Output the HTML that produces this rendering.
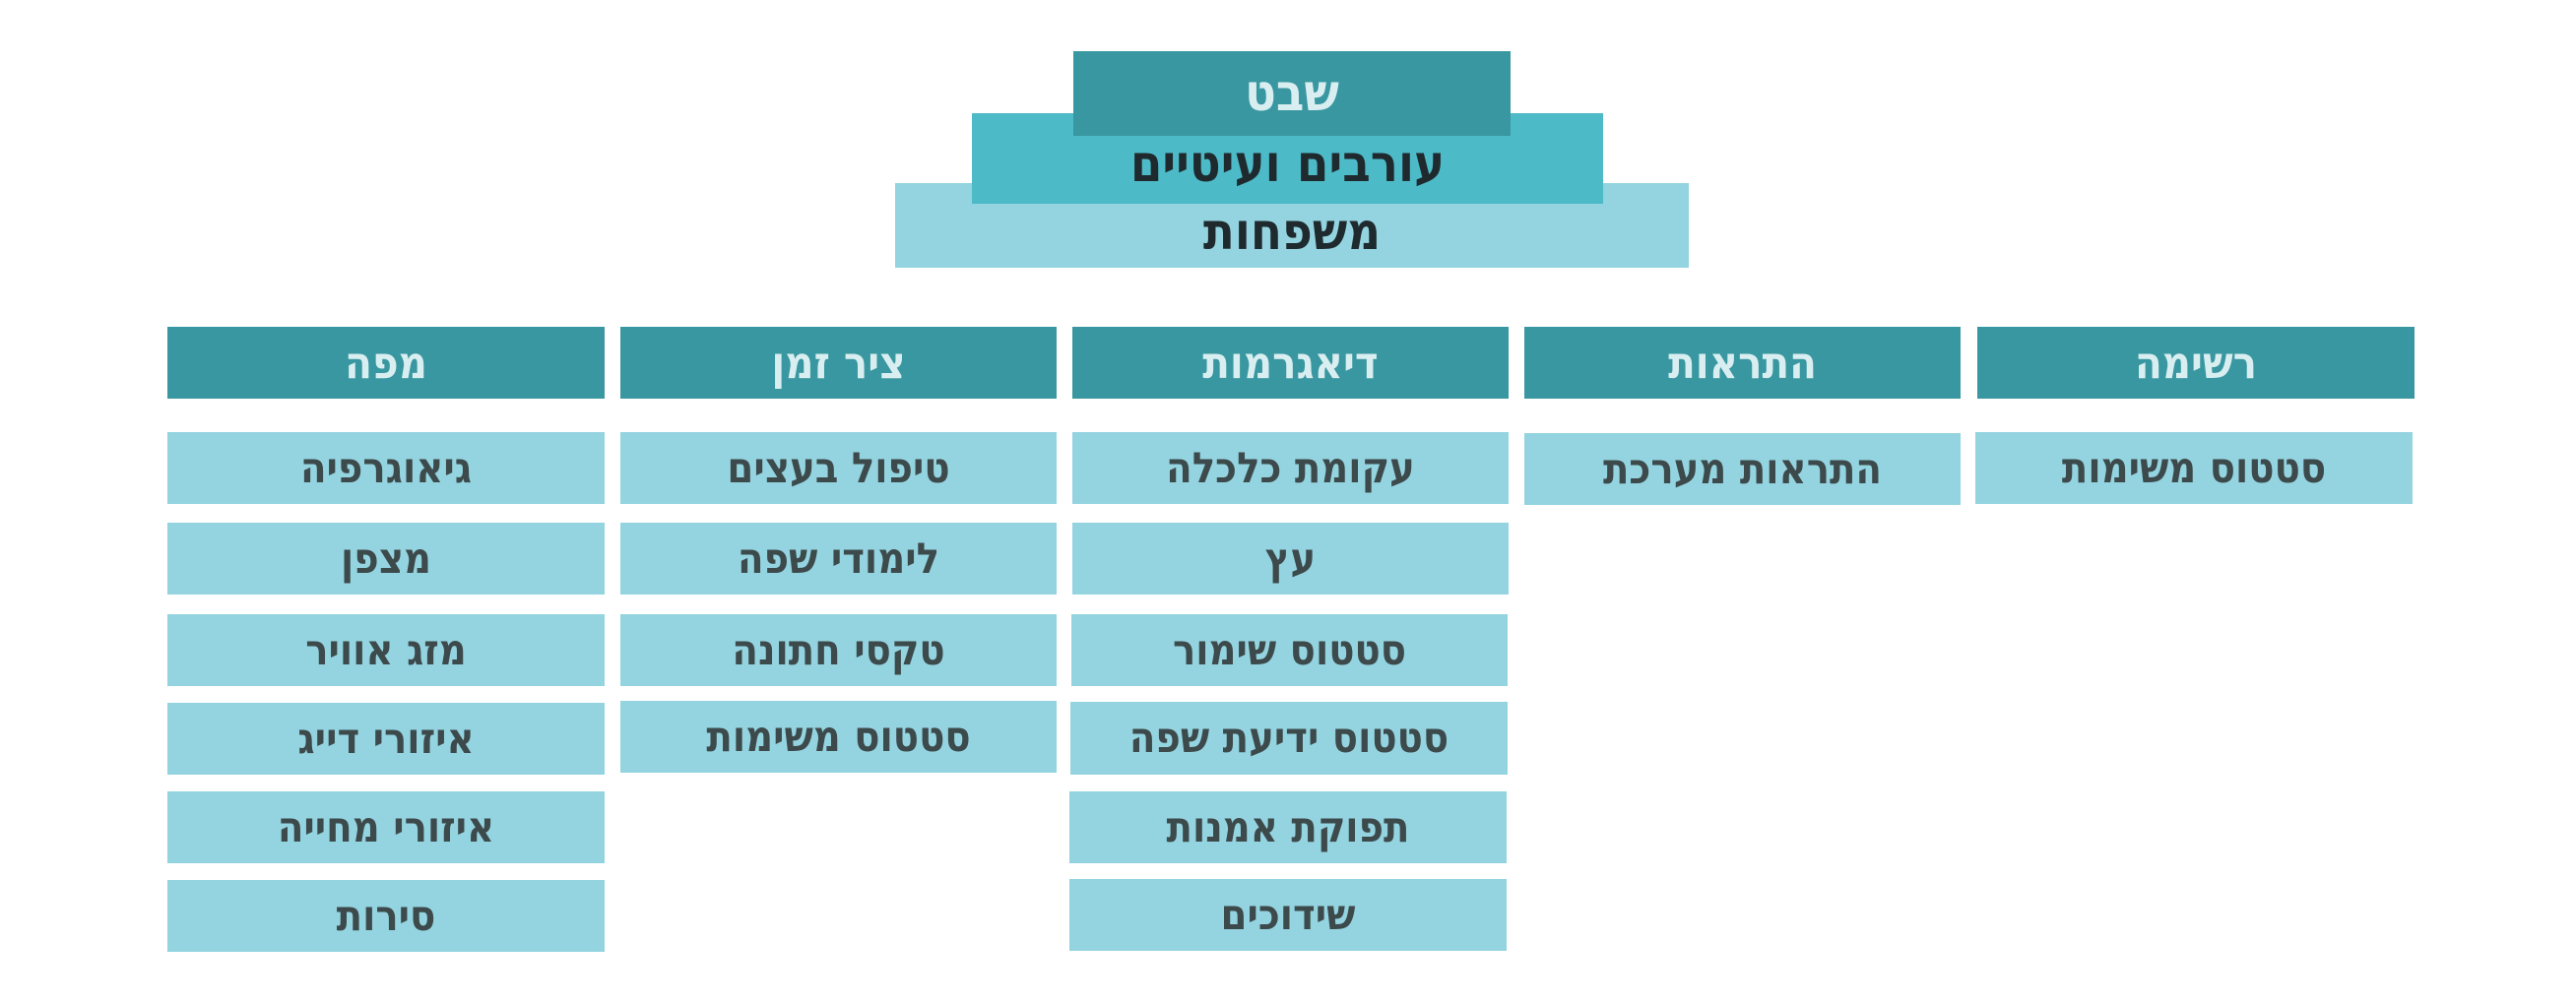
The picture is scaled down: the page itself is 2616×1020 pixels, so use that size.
<!DOCTYPE html>
<html><head><meta charset="utf-8"><style>
body{margin:0;width:2616px;height:1020px;background:#fff;position:relative;overflow:hidden;font-family:"DejaVu Sans Condensed","DejaVu Sans","Liberation Sans",sans-serif;font-weight:bold;}
.b{position:absolute;display:flex;align-items:center;justify-content:center;direction:rtl;}
.h{background:#3897a0;color:#d9eef0;font-size:45px;}
.i{background:#94d4e0;color:#3d4a4c;font-size:43px;}
</style></head><body>
<div class="b" style="left:909px;top:186px;width:806px;height:86px;background:#94d4e0;color:#1e2a2e;font-size:52px;"><span style="position:relative;top:7px">משפחות</span></div>
<div class="b" style="left:987px;top:115px;width:641px;height:92px;background:#4dbac8;color:#1e2a2e;font-size:52px;"><span style="position:relative;top:6px">עורבים ועיטיים</span></div>
<div class="b" style="left:1090px;top:52px;width:444px;height:86px;background:#3897a0;color:#d9eef0;font-size:52px;">שבט</div>

<div class="b h" style="left:170px;top:332px;width:444px;height:73px">מפה</div>
<div class="b h" style="left:630px;top:332px;width:443px;height:73px">ציר זמן</div>
<div class="b h" style="left:1089px;top:332px;width:443px;height:73px">דיאגרמות</div>
<div class="b h" style="left:1548px;top:332px;width:443px;height:73px">התראות</div>
<div class="b h" style="left:2008px;top:332px;width:444px;height:73px">רשימה</div>

<div class="b i" style="left:170px;top:439px;width:444px;height:73px">גיאוגרפיה</div>
<div class="b i" style="left:170px;top:531px;width:444px;height:73px">מצפן</div>
<div class="b i" style="left:170px;top:624px;width:444px;height:73px">מזג אוויר</div>
<div class="b i" style="left:170px;top:714px;width:444px;height:73px">איזורי דייג</div>
<div class="b i" style="left:170px;top:804px;width:444px;height:73px">איזורי מחייה</div>
<div class="b i" style="left:170px;top:894px;width:444px;height:73px">סירות</div>

<div class="b i" style="left:630px;top:439px;width:443px;height:73px">טיפול בעצים</div>
<div class="b i" style="left:630px;top:531px;width:443px;height:73px">לימודי שפה</div>
<div class="b i" style="left:630px;top:624px;width:443px;height:73px">טקסי חתונה</div>
<div class="b i" style="left:630px;top:712px;width:443px;height:73px">סטטוס משימות</div>

<div class="b i" style="left:1089px;top:439px;width:443px;height:73px">עקומת כלכלה</div>
<div class="b i" style="left:1089px;top:531px;width:443px;height:73px">עץ</div>
<div class="b i" style="left:1088px;top:624px;width:443px;height:73px">סטטוס שימור</div>
<div class="b i" style="left:1087px;top:713px;width:444px;height:74px">סטטוס ידיעת שפה</div>
<div class="b i" style="left:1086px;top:804px;width:444px;height:73px">תפוקת אמנות</div>
<div class="b i" style="left:1086px;top:893px;width:444px;height:73px">שידוכים</div>

<div class="b i" style="left:1548px;top:440px;width:443px;height:73px">התראות מערכת</div>
<div class="b i" style="left:2006px;top:439px;width:444px;height:73px">סטטוס משימות</div>
</body></html>
